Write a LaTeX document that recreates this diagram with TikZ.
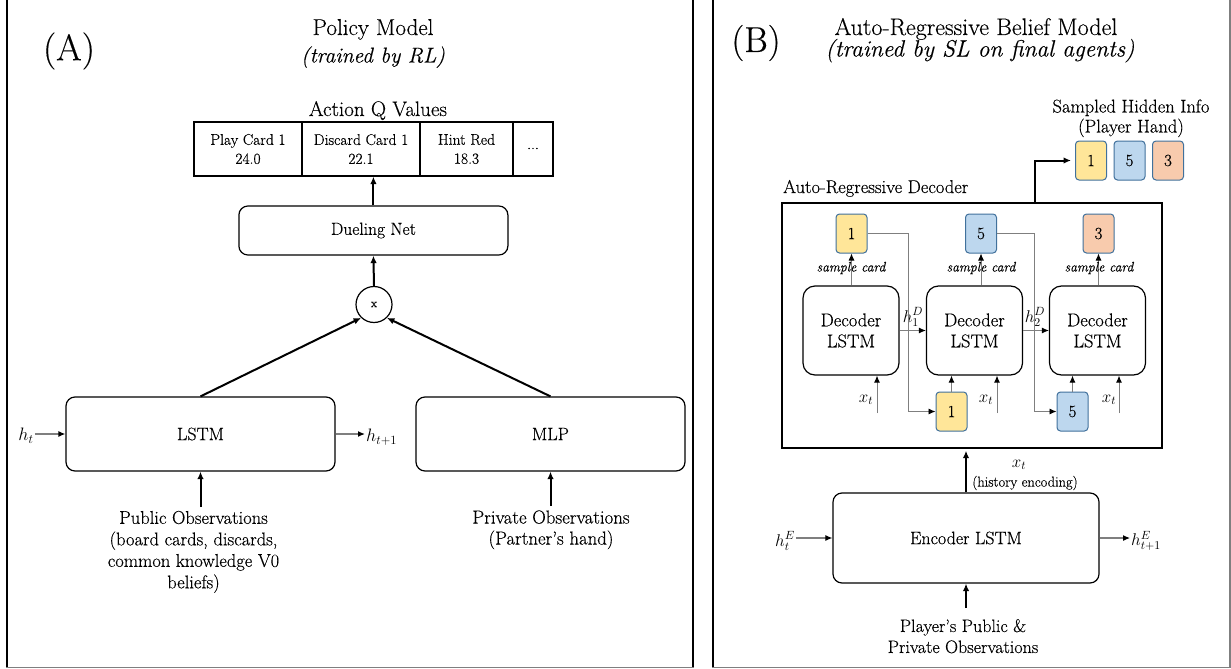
\RequirePackage{fix-cm}
\documentclass[tikz,border=0pt]{standalone}
\usepackage{fontspec}
\setmainfont{Latin Modern Roman}[FakeBold=0.3, ItalicFeatures={FakeBold=0.3}]
\usetikzlibrary{arrows.meta}
\definecolor{cyel}{HTML}{FFE699}
\definecolor{cblu}{HTML}{BDD7EE}
\definecolor{corg}{HTML}{F8CBAD}
\definecolor{cbrd}{HTML}{41719C}
\definecolor{lgray}{HTML}{7F7F7F}
\newcommand\fsz[2]{\fontsize{#1}{#2}\selectfont}
\tikzset{
  rbox/.style={draw, rounded corners=9pt, line width=1.2pt, inner sep=0pt, align=center},
  dbox/.style={draw, rounded corners=12pt, line width=1.2pt, inner sep=0pt, align=center,
     minimum width=96pt, minimum height=89pt, font=\fsz{18.5}{21}},
  cell/.style={draw, line width=1.2pt, minimum height=54pt, inner sep=0pt, align=center, font=\fsz{15.5}{19}},
  card/.style={draw=cbrd, rounded corners=3.5pt, line width=1pt, minimum width=31pt,
     minimum height=39pt, inner sep=0pt, font=\fsz{17}{20}},
  arr/.style={-{Latex[length=7.5pt,width=6.5pt]}, line width=2pt},
  garr/.style={draw=lgray, line width=1.3pt, -{Latex[length=7pt,width=6pt,color=black]}},
  tarr/.style={draw=lgray, line width=0.9pt, -{Latex[length=7pt,width=6pt,color=black]}},
  lbl/.style={inner sep=1pt},
}
\begin{document}
\begin{tikzpicture}[x=1pt,y=-1pt]
\useasboundingbox (0,0) rectangle (1231,669);
\fill[white] (0,0) rectangle (1231,669);

% panel frames
\draw[line width=2pt] (7,-5) -- (7,667.5);
\draw[line width=2pt] (693,-5) -- (693,667.5);
\draw[lgray, line width=1.5pt] (6,667.5) -- (694,667.5);
\draw[line width=2pt] (713,-5) -- (713,667.5);
\draw[lgray, line width=1.3pt] (1230,-5) -- (1230,667.5);
\draw[lgray, line width=1.5pt] (712,667.5) -- (1230.6,667.5);

% ================= Panel A =================
\node[font=\fsz{37}{40}] (labA) at (69,51) {(A)};
\node[anchor=base, font=\fsz{23}{26}] (titA) at (373,35) {Policy Model};
\node[anchor=base, font=\fsz{21.5}{24}\itshape] (subA) at (373,62.5) {(trained by RL)};

\node[anchor=base, font=\fsz{21}{24}] (aqv) at (378,116) {Action Q Values};
\node[cell, minimum width=108pt] (c1) at (248,149) {Play Card 1\\24.0};
\node[cell, minimum width=118pt] (c2) at (361,149) {Discard Card 1\\22.1};
\node[cell, minimum width=93pt] (c3) at (466.5,149) {Hint Red\\18.3};
\node[cell, minimum width=40pt] (c4) at (533,149) {\raisebox{1pt}{...}};

\node[rbox, minimum width=269pt, minimum height=49pt, font=\fsz{17.5}{20}] (duel) at (373.4,230.5) {Dueling Net};
\draw[arr] (duel.north) -- (duel.north |- c2.south);

\node[draw, circle, line width=1.2pt, minimum size=36pt, inner sep=0pt, font=\fsz{12}{14}] (mul) at (374,304.5) {x};
\draw[arr] (mul.north) -- (duel.south);

\node[rbox, minimum width=269pt, minimum height=74pt, font=\fsz{18}{21}] (lstm) at (200.5,434) {LSTM};
\node[rbox, minimum width=269pt, minimum height=74pt, font=\fsz{18}{21}] (mlp) at (550.5,434) {MLP};
\draw[arr] (lstm.north) -- (mul.226);
\draw[arr] (mlp.north) -- (mul.314);

\node[lbl, font=\fsz{18}{20}] (ht) at (26,436) {$h_t$};
\draw[garr] (ht.east |- lstm.west) -- (lstm.west);
\node[lbl, anchor=west, font=\fsz{18}{20}] (ht1) at (365,437) {$h_{t+1}$};
\draw[garr] (lstm.east) -- (ht1.west |- lstm.east);

\node[anchor=north, inner xsep=0pt, inner ysep=3.7pt, align=center, font=\fsz{18.5}{21.5}] (pub) at (193.5,507)
  {Public Observations\\(board cards, discards,\\common knowledge V0\\beliefs)};
\draw[arr] (lstm.south |- pub.north) -- (lstm.south);
\node[anchor=north, inner xsep=0pt, inner ysep=4.2pt, align=center, font=\fsz{18.8}{21}] (priv) at (551,506)
  {Private Observations\\(Partner's hand)};
\draw[arr] (mlp.south |- priv.north) -- (mlp.south);

% ================= Panel B =================
\node[font=\fsz{36}{40}] (labB) at (756,43) {(B)};
\node[anchor=base, font=\fsz{24}{27}] (titB) at (976,35) {Auto-Regressive Belief Model};
\node[anchor=base, font=\fsz{23.5}{26}\itshape] (subB) at (980,56.5) {(trained by SL on final agents)};

\node[anchor=base, font=\fsz{18.5}{21}] (shi) at (1131,112.5) {Sampled Hidden Info};
\node[anchor=base, font=\fsz{18.5}{21}] (phd) at (1131,132.5) {(Player Hand)};
\node[card, fill=cyel] (s1) at (1091,160.5) {1};
\node[card, fill=cblu] (s5) at (1129.5,160.5) {5};
\node[card, fill=corg] (s3) at (1168,160.5) {3};

\node[anchor=base west, inner sep=0pt, font=\fsz{18.5}{21}] (decl) at (783,193) {Auto-Regressive Decoder};
\node[draw, line width=2.8pt, minimum width=380pt, minimum height=245pt, inner sep=0pt] (dec) at (972,325.5) {};
\coordinate (decout) at (1035,203);
\draw[arr, shorten >=4pt] (decout) |- (s1.west);

\node[dbox] (d1) at (851,330.5) {Decoder\\LSTM};
\node[dbox] (d2) at (974.5,330.5) {Decoder\\LSTM};
\node[dbox] (d3) at (1097.5,330.5) {Decoder\\LSTM};

\node[card, fill=cyel] (t1) at (851.5,233.5) {1};
\node[card, fill=cblu] (t5) at (981,233.5) {5};
\node[card, fill=corg] (t3) at (1098.5,233.5) {3};
\node[card, fill=cyel] (b1) at (951.5,411.5) {1};
\node[card, fill=cblu] (b5) at (1072.5,411.5) {5};

\draw[tarr] (t1.south |- d1.north) -- (t1.south);
\draw[tarr] (t5.south |- d2.north) -- (t5.south);
\draw[tarr] (t3.south |- d3.north) -- (t3.south);
\node[font=\fsz{13.7}{16}\itshape] (sc1) at (851,268) {sample card};
\node[font=\fsz{13.7}{16}\itshape] (sc2) at (981,268) {sample card};
\node[font=\fsz{13.7}{16}\itshape] (sc3) at (1099,268) {sample card};

\draw[tarr] (d1.east) -- (d2.west);
\draw[tarr] (d2.east) -- (d3.west);
\node[lbl, font=\fsz{17}{20}] (h1d) at (913,317) {$h^D_1$};
\node[lbl, font=\fsz{17}{20}] (h2d) at (1035,317) {$h^D_2$};

\draw[tarr] (t1.east) -- ++(41,0) |- (b1.west);
\draw[tarr] (t5.east) -- ++(37,0) |- (b5.west);
\draw[tarr] (b1.north) -- (b1.north |- d2.south);
\draw[tarr] (b5.north) -- (b5.north |- d3.south);

\coordinate (x1) at (877,413);
\coordinate (x2) at (997,413);
\coordinate (x3) at (1119,413);
\draw[tarr] (x1) -- (x1 |- d1.south);
\draw[tarr] (x2) -- (x2 |- d2.south);
\draw[tarr] (x3) -- (x3 |- d3.south);
\node[lbl, font=\fsz{17}{20}] (xl1) at (866,400) {$x_t$};
\node[lbl, font=\fsz{17}{20}] (xl2) at (986,400) {$x_t$};
\node[lbl, font=\fsz{17}{20}] (xl3) at (1109,400) {$x_t$};

% encoder
\node[rbox, minimum width=266pt, minimum height=90pt, font=\fsz{18}{21}] (enc) at (966,538) {Encoder LSTM};
\draw[arr, shorten >=1.3pt] (enc.north) -- (enc.north |- dec.south);
\node[lbl, font=\fsz{17}{20}] (xte) at (1019,465) {$x_t$};
\node[font=\fsz{14.4}{17}] (hist) at (1025,483) {(history encoding)};

\node[lbl, font=\fsz{17}{20}] (hE) at (785,541) {$h^E_t$};
\draw[tarr, line width=1.1pt] (hE.east |- enc.west) -- (enc.west);
\node[lbl, anchor=west, font=\fsz{17}{20}] (hE1) at (1130,541) {$h^E_{t+1}$};
\draw[tarr, line width=1.1pt] (enc.east) -- (hE1.west |- enc.east);

\node[anchor=north, inner xsep=0pt, inner ysep=11pt, align=center, font=\fsz{18}{21}] (ppo) at (963,608)
  {Player's Public \&\\Private Observations};
\draw[arr] (enc.south |- ppo.north) -- (enc.south);
\end{tikzpicture}
\end{document}
